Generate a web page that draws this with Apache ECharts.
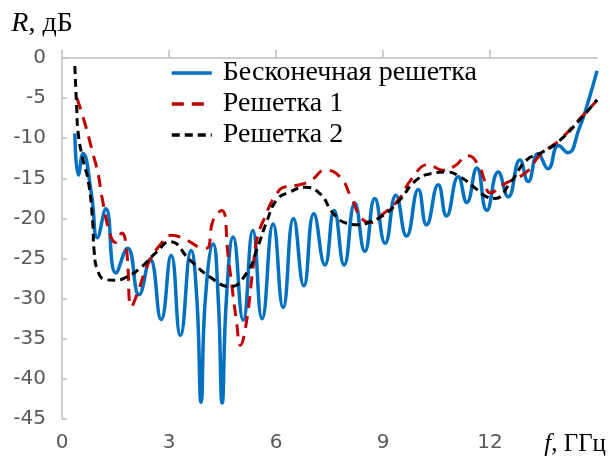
<!DOCTYPE html>
<html>
<head>
<meta charset="utf-8">
<script src="https://cdn.jsdelivr.net/npm/echarts@6/dist/echarts.min.js"></script>
<style>
  html, body { margin: 0; padding: 0; background: #fff; }
  #chart { width: 611px; height: 461px; }
</style>
</head>
<body>
<div id="chart"></div>
<script>
// Бесконечная решетка
var infF = [0.36, 0.46, 0.59, 0.83, 0.99, 1.23, 1.51, 1.84, 2.16, 2.47, 2.78, 3.06, 3.32, 3.62, 3.78, 3.90, 4.02,
  4.24, 4.38, 4.49, 4.61, 4.80, 5.08, 5.35, 5.61, 5.92, 6.20, 6.49, 6.78, 7.06, 7.37, 7.63, 7.91, 8.21,
  8.49, 8.77, 9.06, 9.36, 9.66, 9.99, 10.22, 10.55, 10.78, 11.11, 11.35, 11.63, 11.91, 12.23, 12.51,
  12.84, 13.07, 13.35, 13.63, 13.92, 14.18, 14.50, 14.75, 15.0]
var infR = [-9.4, -14.6, -11.9, -17.1, -22.4, -18.8, -26.8, -23.7, -29.5, -25.1, -32.6, -24.6, -34.6, -24.0, -30.0, -42.9, -30.0,
  -23.2, -30.0, -43.0, -30.0, -22.3, -32.7, -21.5, -32.5, -20.7, -31.1, -20.0, -28.4, -19.4, -25.8, -19.0, -25.8, -18.1,
  -24.1, -17.5, -23.1, -17.1, -22.2, -16.4, -20.8, -15.8, -19.7, -14.8, -18.0, -13.7, -19.0, -14.2, -17.3,
  -12.7, -15.4, -11.9, -13.8, -10.9, -11.8, -8.8, -5.5, -1.6]

// Решетка 1
var g1F = [0.42, 0.64, 0.83, 1.02, 1.11, 1.35, 1.50, 1.68, 1.80, 1.95, 2.10, 2.42, 2.75, 3.07, 3.50, 3.87, 4.06,
  4.24, 4.48, 4.66, 4.90, 5.00, 5.15, 5.36, 5.46, 5.69, 6.02, 6.30, 6.67, 7.00, 7.37, 7.79, 8.12, 8.45,
  8.70, 8.96, 9.43, 9.80, 10.27, 10.69, 11.00, 11.38, 11.67, 11.85, 12.00, 12.40, 13.03, 13.40, 13.96, 14.43, 15.0]
var g1R = [-5.0, -8.1, -11.3, -14.6, -17.1, -22.0, -23.0, -21.8, -23.5, -31.0, -29.5, -25.6, -23.3, -22.1, -22.7, -23.6, -23.7,
  -20.2, -19.0, -24.8, -33.1, -35.8, -33.5, -26.0, -22.7, -19.8, -16.9, -16.0, -15.8, -15.2, -14.0, -14.8, -17.5, -20.2,
  -20.5, -19.6, -17.7, -15.1, -13.3, -14.0, -13.5, -12.2, -13.3, -15.3, -16.8, -15.7, -14.2, -12.1, -10.2, -8.0, -5.3]

// Решетка 2
var g2F = [0.36, 0.41, 0.46, 0.60, 0.74, 0.86, 0.90, 1.00, 1.20, 1.50, 1.81, 2.19, 2.65, 3.03, 3.59, 4.15, 4.71,
  5.18, 5.46, 5.74, 6.02, 6.39, 6.81, 7.23, 7.61, 7.98, 8.31, 8.54, 9.01, 9.43, 9.94, 10.36, 10.78, 11.16,
  11.58, 11.91, 12.14, 12.56, 13.03, 13.40, 13.87, 14.52, 15.0]
var g2R = [-1.0, -6.0, -9.6, -12.9, -15.4, -20.4, -24.0, -26.5, -27.6, -27.7, -27.3, -26.2, -24.2, -22.9, -25.2, -27.3, -28.5,
  -26.8, -23.9, -20.4, -17.7, -16.7, -16.1, -16.9, -19.4, -20.6, -20.8, -20.6, -19.6, -17.9, -15.2, -14.4, -14.2, -14.8,
  -16.2, -17.3, -17.5, -15.6, -12.7, -11.9, -10.6, -7.7, -5.2]

function pairs(xs, ys) {
  return xs.map(function (x, i) { return [x, ys[i]] })
}

var chart = echarts.init(document.getElementById('chart'))
var gray = '#595959'
var axisGray = '#bfbfbf'
var serif = 'Liberation Serif'

chart.setOption({
  animation: false,
  grid: { left: 62, right: 14, top: 58, bottom: 42 },
  legend: {
    orient: 'vertical',
    left: 165,
    top: 54,
    itemWidth: 40,
    itemHeight: 14,
    itemGap: 3,
    itemStyle: { opacity: 0 },
    lineStyle: { width: 3.5 },
    textStyle: { fontFamily: serif, fontSize: 28, color: '#000', padding: [0, 0, 0, 6] },
    data: ['Бесконечная решетка', 'Решетка 1', 'Решетка 2']
  },
  // x axis title sits where the last tick label would be
  graphic: [{
    type: 'text',
    right: 5,
    top: 432,
    style: {
      text: '{i|f}, ГГц',
      fill: '#000',
      font: '25px ' + serif,
      rich: { i: { fontStyle: 'italic', fontFamily: serif, fontSize: 25, fill: '#000' } }
    }
  }],
  xAxis: {
    type: 'value',
    min: 0,
    max: 15,
    interval: 3,
    splitLine: { show: false },
    axisLine: { lineStyle: { color: axisGray, width: 1.5 } },
    axisTick: { inside: true, length: 8, lineStyle: { color: axisGray, width: 1.5 } },
    axisLabel: { showMaxLabel: false, color: gray, fontFamily: 'DejaVu Sans', fontSize: 20, margin: 14 }
  },
  yAxis: {
    type: 'value',
    min: -45,
    max: 0,
    interval: 5,
    name: '{i|R}, дБ',
    nameLocation: 'end',
    nameGap: 20,
    nameTextStyle: {
      fontFamily: serif, fontSize: 28, color: '#000',
      padding: [0, 40, 0, 0],
      rich: { i: { fontStyle: 'italic', fontFamily: serif, fontSize: 28, color: '#000' } }
    },
    splitLine: { show: false },
    axisLine: { show: true, lineStyle: { color: axisGray, width: 1.5 } },
    axisTick: { show: true, inside: true, length: 5, lineStyle: { color: axisGray, width: 1.5 } },
    axisLabel: { color: gray, fontFamily: 'DejaVu Sans', fontSize: 20, margin: 16 }
  },
  series: [
    {
      name: 'Бесконечная решетка',
      type: 'line',
      symbol: 'none',
      smooth: true,
      lineStyle: { color: '#0070c0', width: 3.5 },
      itemStyle: { color: '#0070c0' },
      data: pairs(infF, infR)
    },
    {
      name: 'Решетка 1',
      type: 'line',
      symbol: 'none',
      smooth: true,
      lineStyle: { color: '#c00000', width: 3, type: [12, 8] },
      itemStyle: { color: '#c00000' },
      data: pairs(g1F, g1R)
    },
    {
      name: 'Решетка 2',
      type: 'line',
      symbol: 'none',
      smooth: true,
      lineStyle: { color: '#000', width: 3, type: [8, 5] },
      itemStyle: { color: '#000' },
      data: pairs(g2F, g2R)
    }
  ]
})
</script>
</body>
</html>
